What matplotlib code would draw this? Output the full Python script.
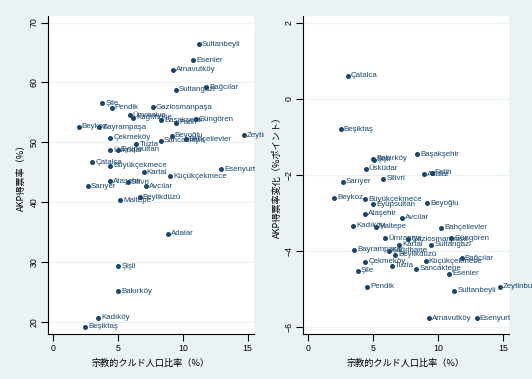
import matplotlib
matplotlib.use("Agg")
import matplotlib.pyplot as plt
from matplotlib.transforms import Bbox, TransformedBbox

districts = ["Adalar", "Arnavutköy", "Ataşehir", "Avcılar", "Bağcılar", "Bahçelievler",
             "Bakırköy", "Başakşehir", "Bayrampaşa", "Beşiktaş", "Beykoz", "Beylikdüzü",
             "Beyoğlu", "Büyükçekmece", "Çatalca", "Çekmeköy", "Esenler", "Esenyurt",
             "Eyüpsultan", "Fatih", "Gaziosmanpaşa", "Güngören", "Kadıköy", "Kağıthane",
             "Kartal", "Küçükçekmece", "Maltepe", "Pendik", "Sancaktepe", "Sarıyer",
             "Silivri", "Sultanbeyli", "Sultangazi", "Şile", "Şişli", "Tuzla",
             "Ümraniye", "Üsküdar", "Zeytinburnu"]
kurd_share = [8.87, 9.25, 4.38, 7.17, 11.79, 10.22,
              5.0, 8.36, 3.55, 2.49, 1.97, 6.68,
              9.14, 4.38, 3.02, 4.40, 10.83, 12.96,
              4.98, 9.50, 7.69, 11.0, 3.46, 6.19,
              6.98, 9.02, 5.18, 4.51, 8.30, 2.67,
              5.77, 11.24, 9.45, 3.80, 5.04, 6.43,
              5.90, 4.41, 14.71]
akp_vote = [34.7, 62.1, 43.5, 42.7, 59.2, 50.5,
            25.1, 53.7, 52.5, 19.2, 52.6, 40.8,
            51.1, 46.1, 46.7, 50.8, 63.7, 45.5,
            48.8, 53.3, 55.9, 53.9, 20.7, 54.1,
            45.0, 44.3, 40.3, 55.8, 50.25, 42.7,
            43.3, 66.4, 58.8, 56.55, 29.3, 49.7,
            54.6, 48.7, 51.2]
akp_change = [-1.99, -5.78, -3.03, -3.13, -4.20, -3.39,
              -1.58, -1.46, -3.97, -0.80, -2.61, -4.11,
              -2.75, -2.64, 0.61, -4.29, -4.61, -5.78,
              -2.77, -1.94, -3.69, -3.67, -3.34, -4.00,
              -3.84, -4.28, -3.37, -4.95, -4.47, -2.18,
              -2.10, -5.05, -3.84, -4.53, -1.60, -4.39,
              -3.67, -1.84, -4.95]

x_ticks = [0, 5, 10, 15]
left_yticks = [20, 30, 40, 50, 60, 70]
right_yticks = [-6, -4, -2, 0, 2]
xlabel = "宗教的クルド人口比率（%）"
left_ylabel = "AKP得票率（%）"
right_ylabel = "AKP得票率変化（%ポイント）"

BG = "#EAF2F3"
NAVY = "#1a476f"
FONTS = ["Liberation Sans", "Noto Sans CJK JP", "DejaVu Sans"]
CJK = ["Noto Sans CJK JP", "DejaVu Sans"]
plt.rcParams["font.family"] = FONTS

W, H = 532, 379
fig = plt.figure(figsize=(W / 100, H / 100), dpi=100, facecolor=BG)

def px_axes(x0, x1, y0, y1):
    return fig.add_axes([x0 / W, 1 - y1 / H, (x1 - x0) / W, (y1 - y0) / H])

def style(ax, yticks, ylim, xlim, ylabel, ylabx):
    ax.set_facecolor("white")
    ax.set_xlim(*xlim)
    ax.set_ylim(*ylim)
    for s in ["top", "right"]:
        ax.spines[s].set_visible(False)
    for s in ["left", "bottom"]:
        ax.spines[s].set_color("black")
        ax.spines[s].set_linewidth(0.8)
    ax.set_xticks(x_ticks)
    ax.set_yticks(yticks)
    ax.tick_params(axis="both", direction="out", length=5, width=0.8,
                   labelsize=6.3, pad=2, colors="black")
    ax.tick_params(axis="y", pad=1.5)
    for lab in ax.get_yticklabels():
        lab.set_rotation(90)
        lab.set_va("center")
    ax.grid(axis="y", color=BG, linewidth=0.9)
    ax.set_axisbelow(True)
    ax.set_xlabel(xlabel, fontsize=6.6, labelpad=4.5, family=CJK)
    ax.set_ylabel(ylabel, fontsize=6.6, family=CJK)
    ax.yaxis.set_label_coords(ylabx, 0.5)

def points(ax, ys, clip_right_px=None):
    ax.scatter(kurd_share, ys, s=13, color=NAVY, zorder=3, linewidths=0)
    clip = None
    if clip_right_px is not None:
        clip = TransformedBbox(Bbox([[0, 0], [clip_right_px / W, 1]]), fig.transFigure)
    for name, xv, yv in zip(districts, kurd_share, ys):
        t = ax.annotate(name, (xv, yv), xytext=(2.2, 0), textcoords="offset points",
                        fontsize=5.7, color=NAVY, va="center", ha="left",
                        annotation_clip=False, zorder=4)
        if clip is not None:
            t.set_clip_box(clip)
            t.set_clip_on(True)

ax1 = px_axes(48, 254, 16, 334)
style(ax1, left_yticks, (18.0, 71.1), (-0.4, 15.5), left_ylabel, -0.107)
points(ax1, akp_vote, clip_right_px=264)

ax2 = px_axes(302.7, 509.3, 16, 334)
style(ax2, right_yticks, (-6.19, 2.18), (-0.43, 15.46), right_ylabel, -0.10)
points(ax2, akp_change)

fig.savefig("out.png", dpi=100, facecolor=BG)
